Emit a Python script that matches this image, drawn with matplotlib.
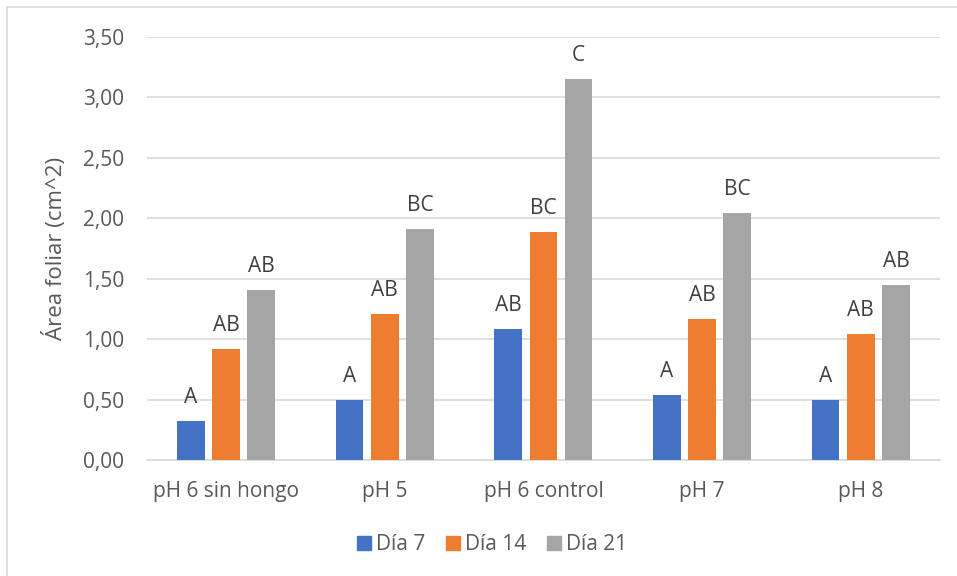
import matplotlib
matplotlib.use("Agg")
import matplotlib.pyplot as plt
import numpy as np
from matplotlib.ticker import FuncFormatter
from matplotlib.patches import Rectangle
from matplotlib.lines import Line2D

plt.rcParams['font.family'] = ['Open Sans', 'DejaVu Sans']

categories = ["pH 6 sin hongo", "pH 5", "pH 6 control", "pH 7", "pH 8"]
series_names = ["Día 7", "Día 14", "Día 21"]
dia7 = [0.32, 0.50, 1.08, 0.54, 0.50]
dia14 = [0.92, 1.21, 1.89, 1.17, 1.04]
dia21 = [1.41, 1.91, 3.15, 2.04, 1.45]
letters7 = ["A", "A", "AB", "A", "A"]
letters14 = ["AB", "AB", "BC", "AB", "AB"]
letters21 = ["AB", "BC", "C", "BC", "AB"]
yticks = [0.0, 0.5, 1.0, 1.5, 2.0, 2.5, 3.0, 3.5]

colors = ["#4472C4", "#ED7D31", "#A5A5A5"]
text_color = "#595959"

fig = plt.figure(figsize=(9.57, 5.76), dpi=100)
ax = fig.add_axes([0.1533, 0.2014, 0.8290, 0.7344])

x = np.arange(len(categories))
width = 0.175
step = 0.222
series = [dia7, dia14, dia21]
letter_sets = [letters7, letters14, letters21]

for i, (vals, labs) in enumerate(zip(series, letter_sets)):
    pos = x + (i - 1) * step
    ax.bar(pos, vals, width=width, color=colors[i], zorder=3,
           label=series_names[i])
    for px, v, lab in zip(pos, vals, labs):
        ax.annotate(lab, (px, v), xytext=(0, 13), textcoords="offset points",
                    ha="center", va="baseline", fontsize=15,
                    color="#404040")

ax.set_xlim(-0.5, len(categories) - 0.5)
ax.set_ylim(0, 3.5)
ax.set_yticks(yticks)
ax.yaxis.set_major_formatter(FuncFormatter(lambda v, p: f"{v:.2f}".replace(".", ",")))
ax.set_xticks(x)
ax.set_xticklabels(categories)
ax.grid(axis="y", color="#D9D9D9", linewidth=1.2, zorder=0)
ax.set_axisbelow(True)
for side in ["top", "right", "left"]:
    ax.spines[side].set_visible(False)
ax.spines["bottom"].set_color("#D9D9D9")
ax.spines["bottom"].set_linewidth(1.2)
ax.tick_params(axis="both", length=0, labelsize=15, colors=text_color)
ax.tick_params(axis="y", pad=16)
ax.tick_params(axis="x", pad=15)

ax.set_ylabel("Área foliar (cm^2)", fontsize=16, color=text_color, labelpad=12)

handles = [Rectangle((0, 0), 1, 1, color=c) for c in colors]
fig.legend(handles, series_names, loc="center",
           bbox_to_anchor=(492 / 957, 1 - 545 / 576),
           ncol=3, frameon=False, fontsize=15, handlelength=0.66, handleheight=0.66,
           handletextpad=0.25, columnspacing=1.0, labelcolor=text_color,
           borderpad=0, borderaxespad=0)

# chart frame (left and top edges)
fig.add_artist(Line2D([7 / 957, 7 / 957], [0, 1 - 7 / 576], transform=fig.transFigure,
                      color="#D9D9D9", linewidth=1.2))
fig.add_artist(Line2D([7 / 957, 1], [1 - 7 / 576, 1 - 7 / 576], transform=fig.transFigure,
                      color="#D9D9D9", linewidth=1.2))

fig.savefig("out.png", dpi=100)
